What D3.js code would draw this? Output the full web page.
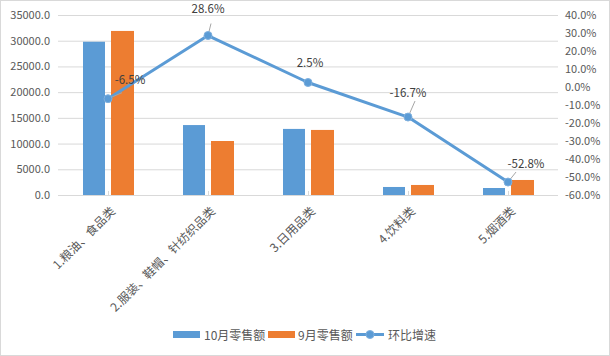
<!DOCTYPE html>
<html><head><meta charset="utf-8">
<script src="https://cdn.jsdelivr.net/npm/d3@7"></script>
<style>body{margin:0;background:#fff}svg{display:block}text{font-family:"Noto Sans CJK SC","Microsoft YaHei",sans-serif}</style>
</head><body><svg id="c" width="610" height="356"></svg>
<script>
const categories = ["1.粮油、食品类","2.服装、鞋帽、针纺织品类","3.日用品类","4.饮料类","5.烟酒类"];
const oct = [29800, 13600, 12850, 1560, 1360];
const sep = [31900, 10500, 12650, 1950, 2920];
const growth = [-6.5, 28.6, 2.5, -16.7, -52.8];
const leftTicks = [0,5000,10000,15000,20000,25000,30000,35000];
const rightTicks = [-60,-50,-40,-30,-20,-10,0,10,20,30,40];
const seriesNames = ["10月零售额","9月零售额","环比增速"];
const colors = ["#5b9bd5","#ed7d31","#5b9bd5"];

const svg = d3.select("#c");
svg.append("rect").attr("x",0.5).attr("y",0.5).attr("width",609).attr("height",355).attr("fill","#fff").attr("stroke","#d9d9d9");
const L=58,R=558,T=15,B=195;
const x = d3.scaleBand().domain(categories).range([L,R]);
const yL = d3.scaleLinear().domain([0,35000]).range([B,T]);
const yR = d3.scaleLinear().domain([-60,40]).range([B,T]);

// grid
svg.append("g").selectAll("line").data(leftTicks.slice(1)).join("line")
  .attr("x1",L).attr("x2",R).attr("y1",d=>yL(d)+0.5).attr("y2",d=>yL(d)+0.5)
  .attr("stroke","#d9d9d9").attr("stroke-width",1);

// left axis labels
svg.append("g").selectAll("text").data(leftTicks).join("text")
  .attr("x",50).attr("y",d=>yL(d)+4).attr("text-anchor","end")
  .attr("font-size",11).attr("fill","#595959").text(d=>d.toFixed(1));
// right axis labels
svg.append("g").selectAll("text").data(rightTicks).join("text")
  .attr("x",565).attr("y",d=>yR(d)+4).attr("text-anchor","start")
  .attr("font-size",11).attr("fill","#595959").text(d=>d.toFixed(1)+"%");

// bars
const bw=22, gap=6;
svg.append("g").selectAll("rect").data(oct).join("rect")
  .attr("x",(d,i)=>x(categories[i])+x.bandwidth()/2-gap/2-bw).attr("width",bw)
  .attr("y",d=>yL(d)).attr("height",d=>B-yL(d)).attr("fill",colors[0]);
svg.append("g").selectAll("rect").data(sep).join("rect")
  .attr("x",(d,i)=>x(categories[i])+x.bandwidth()/2+gap/2).attr("width",bw+1)
  .attr("y",d=>yL(d)).attr("height",d=>B-yL(d)).attr("fill",colors[1]);

// axis line & ticks
svg.append("line").attr("x1",L).attr("x2",R).attr("y1",B+0.5).attr("y2",B+0.5).attr("stroke","#d9d9d9");
svg.append("g").selectAll("line").data(categories).join("line")
  .attr("x1",d=>x(d)+x.bandwidth()/2+0.5).attr("x2",d=>x(d)+x.bandwidth()/2+0.5)
  .attr("y1",B-4).attr("y2",B).attr("stroke","#d9d9d9");

// category labels
svg.append("g").selectAll("text").data(categories).join("text")
  .attr("transform",d=>`translate(${x(d)+x.bandwidth()/2+8},${B+17}) rotate(-45)`)
  .attr("text-anchor","end").attr("font-size",12).attr("fill","#595959").text(d=>d);

// line
const cx = i=>x(categories[i])+x.bandwidth()/2;
const line = d3.line().x((d,i)=>cx(i)).y(d=>yR(d));
svg.append("path").datum(growth).attr("d",line).attr("fill","none")
  .attr("stroke",colors[2]).attr("stroke-width",3).attr("stroke-linejoin","round");

// label leader lines and labels
const lblOff = [[22,-15],[0,-23],[2,-16],[0,-20],[18,-14]];
svg.append("g").selectAll("line").data(growth).join("line")
  .attr("x1",(d,i)=>cx(i)).attr("y1",d=>yR(d))
  .attr("x2",(d,i)=>cx(i)+[14,3,0,7,8][i]).attr("y2",(d,i)=>yR(d)+[-6,-12,0,-16,-10][i])
  .attr("stroke","#a6a6a6").attr("stroke-width",1).attr("opacity",(d,i)=>i==2?0:1);
svg.append("g").selectAll("circle").data(growth).join("circle")
  .attr("cx",(d,i)=>cx(i)).attr("cy",d=>yR(d)).attr("r",4)
  .attr("fill",colors[2]).attr("stroke","#7fb0de").attr("stroke-width",1);
svg.append("g").selectAll("text").data(growth).join("text")
  .attr("x",(d,i)=>cx(i)+lblOff[i][0]).attr("y",(d,i)=>yR(d)+lblOff[i][1])
  .attr("text-anchor","middle").attr("font-size",11.5).attr("fill","#404040")
  .text(d=>d.toFixed(1)+"%");

// legend
const lg = svg.append("g").attr("transform","translate(0,335)");
lg.append("rect").attr("x",173).attr("y",-4).attr("width",27).attr("height",7).attr("fill",colors[0]);
lg.append("text").attr("x",204).attr("y",4.5).attr("font-size",12).attr("fill","#595959").text(seriesNames[0]);
lg.append("rect").attr("x",268).attr("y",-4).attr("width",27).attr("height",7).attr("fill",colors[1]);
lg.append("text").attr("x",298).attr("y",4.5).attr("font-size",12).attr("fill","#595959").text(seriesNames[1]);
lg.append("line").attr("x1",356).attr("x2",384).attr("y1",-0.5).attr("y2",-0.5).attr("stroke",colors[2]).attr("stroke-width",3);
lg.append("circle").attr("cx",370).attr("cy",-0.5).attr("r",4).attr("fill",colors[2]).attr("stroke","#7fb0de");
lg.append("text").attr("x",388).attr("y",4.5).attr("font-size",12).attr("fill","#595959").text(seriesNames[2]);
</script></body></html>
